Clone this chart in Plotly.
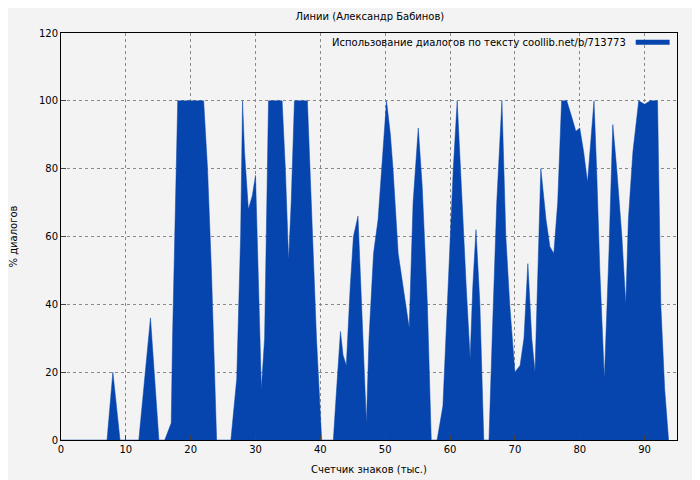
import plotly.graph_objects as go

# vertices of the filled profile (thousand chars, % dialogues)
x_k = [0, 7.1, 8, 9.1, 12, 13.8, 15.1, 16, 17, 17.2, 18, 22, 22.6, 23.2, 24,
       26.2, 27.1, 27.7, 28, 28.3, 28.9, 29.5, 30, 30.5, 30.9, 31.4, 31.8, 32, 34.1, 34.6, 35.1, 35.5, 36, 38, 38.6, 39.4, 40.2,
       42, 42.5, 43.1, 43.5, 44, 44.6, 45.1, 45.8, 46.5, 47.1, 47.5, 48.2, 48.9, 49.5, 50.2, 50.8, 51.2, 52, 52.8, 53.7, 54.3, 55.1, 55.7, 56.5, 57.1,
       58, 58.9, 59.8, 60.5, 61.1, 61.7, 62.5, 63.1, 63.5, 64, 64.6, 65.2,
       66, 66.5, 67.2, 68, 68.6, 69.2, 70, 70.8, 71.4, 72, 72.6, 73.1, 73.5, 74, 74.8, 75.4, 76, 76.6, 77.2, 78, 78.8, 79.4, 80, 80.6, 81.2, 81.8, 82.2,
       82.6, 83.1, 83.8, 84.5, 85.1, 85.7, 86.5, 87.1, 87.5, 88.2, 89.1, 90, 90.9, 92, 92.5, 93.1, 93.7]
y_pct = [0, 0, 20, 0, 0, 36, 0, 0, 5, 30, 100, 100, 80, 50, 0,
         0, 18, 60, 100, 85, 68, 72, 78, 40, 15, 30, 80, 100, 100, 80, 53, 70, 100, 100, 70, 30, 0,
         0, 15, 32, 25, 22, 45, 60, 66, 30, 5, 30, 55, 65, 80, 100, 90, 80, 55, 45, 33, 70, 92, 75, 40, 0,
         0, 10, 50, 80, 100, 75, 45, 24, 45, 62, 40, 0,
         0, 30, 70, 100, 60, 40, 20, 22, 30, 52, 30, 20, 50, 80, 65, 57, 55, 70, 100, 100, 95, 91, 92, 85, 76, 90, 100,
         80, 50, 18, 55, 93, 80, 60, 40, 65, 85, 100, 99, 100, 100, 40, 15, 0]

fnt = dict(family="DejaVu Sans", size=10, color="black")
fig = go.Figure(go.Scatter(x=x_k, y=y_pct, mode="lines", fill="tozeroy",
                           line=dict(color="#0645ad", width=0.5), fillcolor="#0645ad",
                           showlegend=False))
fig.add_annotation(text="Использование диалогов по тексту coollib.net/b/713773",
                   xref="paper", yref="paper", x=0.92, y=0.995, xanchor="right", yanchor="top",
                   showarrow=False, font=fnt)
fig.add_shape(type="line", xref="paper", yref="paper", x0=0.933, x1=0.988, y0=0.977, y1=0.977,
              line=dict(color="#0645ad", width=5))
ax = dict(showline=True, linecolor="black", mirror=True, ticks="inside", ticklen=5,
          gridcolor="#888", griddash="dot", gridwidth=0.7, zeroline=False, tickfont=fnt,
          automargin=False)
fig.update_layout(
    width=700, height=480, margin=dict(l=53, r=31, t=25, b=48),
    paper_bgcolor="#f3f3f3", plot_bgcolor="#f3f3f3", font=fnt,
    title=dict(text="Линии (Александр Бабинов)", x=0.517, y=0.99, font=fnt),
    xaxis=dict(ax, range=[0, 95], dtick=10, title=dict(text="Счетчик знаков (тыс.)", font=fnt, standoff=11)),
    yaxis=dict(ax, range=[0, 120], dtick=20, title=dict(text="% диалогов", font=fnt, standoff=24)),
)
fig.write_html("out.html")
